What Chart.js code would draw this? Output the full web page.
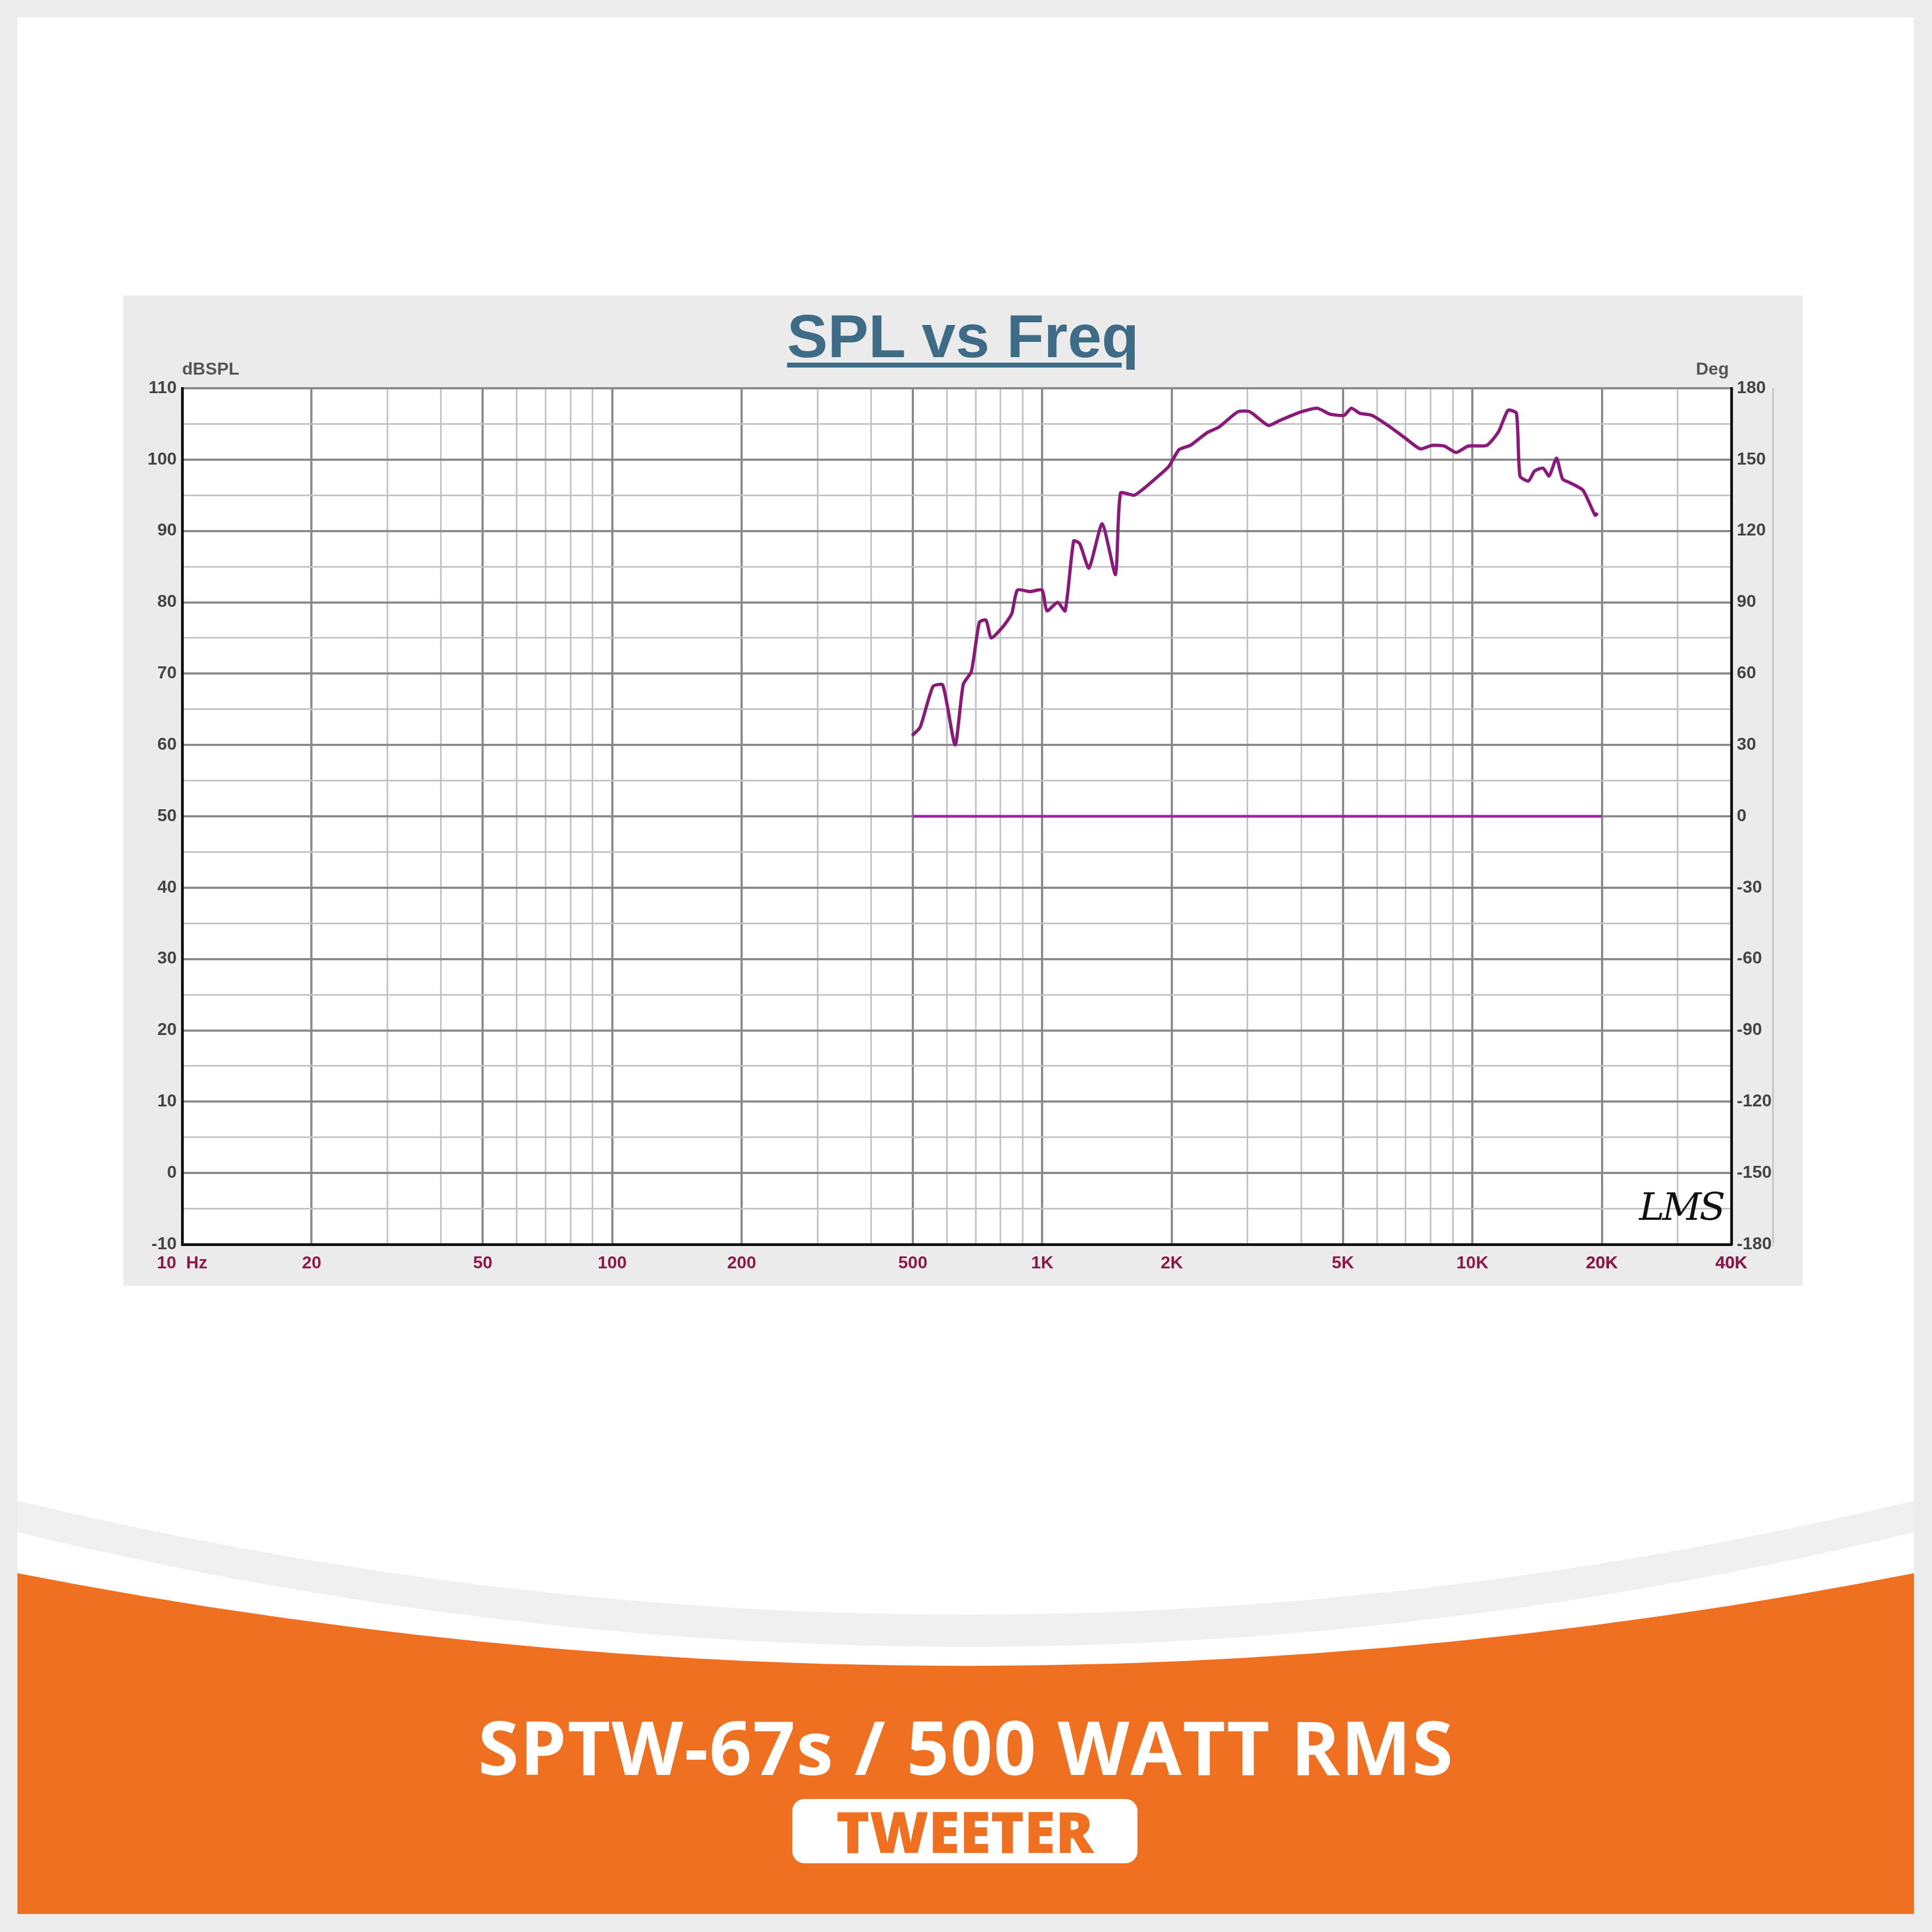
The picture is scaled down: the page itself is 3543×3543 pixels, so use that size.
<!DOCTYPE html>
<html>
<head>
<meta charset="utf-8">
<script src="https://cdn.jsdelivr.net/npm/chart.js@4"></script>
<style>
  html, body { margin: 0; padding: 0; }
  body { width: 3543px; height: 3543px; background: #ececec; position: relative; overflow: hidden; font-family: 'Liberation Sans', Arial, sans-serif; }
  #panel { position: absolute; left: 226px; top: 542px; width: 3080px; height: 1816px; background: #ebebeb; }
  #title { position: absolute; left: 0; width: 3080px; top: 10px; text-align: center; font: bold 112px 'Liberation Sans', Arial, sans-serif; color: #3e6b86; text-decoration: underline; text-decoration-thickness: 9px; text-underline-offset: 10px; }
  .unit { position: absolute; top: 116px; font: bold 32px 'Liberation Sans Narrow', 'Liberation Sans', sans-serif; color: #555; }
  #lms { position: absolute; left: 2780px; top: 1630px; font: italic 70px 'DejaVu Serif', serif; color: #111; letter-spacing: -4px; }
  #band { position: absolute; left: 0; top: 0; }
  #head { position: absolute; left: 0; width: 3543px; top: 3110px; text-align: center; font: bold 136px 'Open Sans', 'Liberation Sans', sans-serif; color: #fff; letter-spacing: 2px; }
  #pill { position: absolute; left: 1453px; top: 3299px; width: 633px; height: 118px; background: #fff; border-radius: 22px; text-align: center; font: 800 104px/118px 'Open Sans', 'Liberation Sans', sans-serif; color: #f07022; }
</style>
</head>
<body>
<svg id="band" width="3543" height="3543">
  <rect x="32" y="32" width="3478" height="3478" fill="#ffffff"/>
  <path d="M32 2752 Q1771 3170 3510 2752 L3510 3510 L32 3510 Z" fill="#f0f0f0"/>
  <path d="M32 2810 Q1771 3230 3510 2810 L3510 3510 L32 3510 Z" fill="#ffffff"/>
  <path d="M32 2885 Q1771 3225 3510 2885 L3510 3510 L32 3510 Z" fill="#f07022"/>
</svg>
<div id="panel">
  <div id="title">SPL vs Freq</div>
  <div class="unit" style="left:108px">dBSPL</div>
  <div class="unit" style="left:2884px">Deg</div>
  <canvas id="c" width="3080" height="1816"></canvas>
  <div id="lms">LMS</div>
</div>
<div id="head">SPTW-67s / 500 WATT RMS</div>
<div id="pill">TWEETER</div>
<script>
const freqs = [498,520,557,587,627,655,684,714,740,761,808,849,875,935,999,1025,1086,1130,1183,1222,1284,1378,1480,1520,1634,1710,1854,1966,2080,2210,2420,2580,2850,3040,3350,3570,4000,4360,4650,5030,5230,5470,5840,6430,6950,7560,8060,8600,9170,9780,10800,11500,12100,12660,12900,13500,13950,14600,15080,15690,16200,16940,18080,19290,19550];
const spl = [61.3,62.5,68.2,68.4,60,68.5,70.3,77.2,77.5,75,76.5,78.4,81.7,81.5,81.7,78.8,80,78.8,88.6,88.2,84.8,91,83.9,95.3,95,95.8,97.6,99,101.4,102,103.8,104.6,106.7,106.7,104.8,105.5,106.7,107.2,106.4,106.2,107.2,106.5,106.2,104.6,103.1,101.5,102,101.9,101,101.9,102,103.9,106.9,106.5,97.7,97,98.4,98.8,97.7,100.2,97.3,96.7,95.7,92.2,92.5];
const phaseFreqs = [500, 20000];
const phase = [0, 0];
const xLabels = {10:'10  Hz',20:'20',50:'50',100:'100',200:'200',500:'500',1000:'1K',2000:'2K',5000:'5K',10000:'10K',20000:'20K',40000:'40K'};
const splTicks = [-10,0,10,20,30,40,50,60,70,80,90,100,110];
const degTicks = [-180,-150,-120,-90,-60,-30,0,30,60,90,120,150,180];

const xTicks = [];
for (let d = 10; d <= 10000; d *= 10) for (let m = 1; m < 10; m++) xTicks.push(d * m);
xTicks.push(20000, 30000, 40000);

const tickFont = { family: "'Liberation Sans Narrow', 'Liberation Sans', sans-serif", size: 32, weight: 'bold' };

const whiteArea = {
  id: 'whiteArea',
  beforeDraw(chart) {
    const a = chart.chartArea, ctx = chart.ctx;
    ctx.save(); ctx.fillStyle = '#fff'; ctx.fillRect(a.left, a.top, a.right - a.left, a.bottom - a.top); ctx.restore();
  }
};

new Chart(document.getElementById('c'), {
  type: 'line',
  data: {
    datasets: [
      { data: freqs.map((f, i) => ({ x: f, y: spl[i] })), yAxisID: 'y', borderColor: '#8a1a7a', borderWidth: 6, pointRadius: 0, tension: 0.2 },
      { data: phaseFreqs.map((f, i) => ({ x: f, y: phase[i] })), yAxisID: 'y2', borderColor: '#a021a8', borderWidth: 5, pointRadius: 0 }
    ]
  },
  plugins: [whiteArea],
  options: {
    responsive: false, animation: false, devicePixelRatio: 1,
    layout: { padding: { top: 170, right: 0, left: 0, bottom: 0 } },
    plugins: { legend: { display: false }, tooltip: { enabled: false } },
    scales: {
      x: {
        type: 'logarithmic', min: 10, max: 40000,
        afterBuildTicks: s => { s.ticks = xTicks.map(v => ({ value: v })); },
        afterFit: s => { s.height = 76; },
        ticks: { autoSkip: false, maxRotation: 0, color: '#8b1a4a', font: tickFont, padding: 16,
          callback: v => xLabels[v] || '' },
        grid: { color: c => xLabels[c.tick && c.tick.value] ? '#8a8a8a' : '#c4c4c4', lineWidth: c => xLabels[c.tick && c.tick.value] ? 4 : 3, tickLength: 0 },
        border: { color: '#111', width: 5 }
      },
      y: {
        position: 'left', min: -10, max: 110,
        afterBuildTicks: s => { const t = []; for (let v = -10; v <= 110; v += 5) t.push({ value: v }); s.ticks = t; },
        afterFit: s => { s.width = 108; },
        ticks: { autoSkip: false, color: '#444', font: tickFont, padding: 10,
          callback: v => splTicks.includes(v) ? String(v) : '' },
        grid: { color: c => c.tick && c.tick.value % 10 === 0 ? '#8a8a8a' : '#c4c4c4', lineWidth: c => c.tick && c.tick.value % 10 === 0 ? 4 : 3, tickLength: 0 },
        border: { color: '#111', width: 5 }
      },
      y2: {
        position: 'right', min: -180, max: 180,
        afterBuildTicks: s => { s.ticks = degTicks.map(v => ({ value: v })); },
        afterFit: s => { s.width = 131; },
        ticks: { autoSkip: false, color: '#444', font: tickFont, padding: 10 },
        grid: { drawOnChartArea: false, tickLength: 0 },
        border: { color: '#111', width: 5 }
      }
    }
  }
});
</script>
</body>
</html>
